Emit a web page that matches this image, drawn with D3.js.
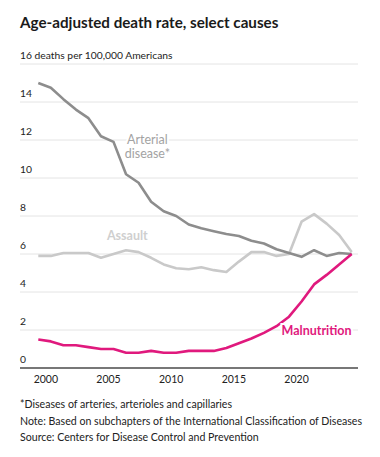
<!DOCTYPE html>
<html><head><meta charset="utf-8">
<script src="https://cdn.jsdelivr.net/npm/d3@7"></script>
<style>body{margin:0;background:#fff}svg{display:block}</style>
</head><body>
<svg id="c" width="380" height="457"></svg>
<script>
const years = [1999,2000,2001,2002,2003,2004,2005,2006,2007,2008,2009,2010,2011,2012,2013,2014,2015,2016,2017,2018,2019,2020,2021,2022,2023,2024];
const arterial = [15.0,14.75,14.15,13.6,13.15,12.2,11.9,10.2,9.75,8.75,8.25,8.0,7.55,7.35,7.2,7.05,6.95,6.7,6.55,6.25,6.05,5.85,6.2,5.9,6.05,6.0];
const assault = [5.9,5.9,6.05,6.05,6.05,5.8,6.0,6.2,6.1,5.8,5.45,5.25,5.2,5.3,5.15,5.05,5.6,6.1,6.1,5.9,6.0,7.7,8.1,7.6,7.0,6.1];
const malnutrition = [1.5,1.4,1.2,1.2,1.1,1.0,1.0,0.8,0.8,0.9,0.8,0.8,0.9,0.9,0.9,1.05,1.3,1.55,1.85,2.2,2.7,3.5,4.4,4.9,5.45,6.0];
const yTicks = [0,2,4,6,8,10,12,14,16];
const xTicks = [2000,2005,2010,2015,2020];
const title = "Age-adjusted death rate, select causes";
const unitLabel = "16 deaths per 100,000 Americans";
const notes = ["*Diseases of arteries, arterioles and capillaries","Note: Based on subchapters of the International Classification of Diseases","Source: Centers for Disease Control and Prevention"];

const FONT = "Lato, 'Open Sans', sans-serif";
const svg = d3.select("#c").style("font-family", FONT);
const x = d3.scaleLinear().domain([1999,2024]).range([38.3,351.7]);
const y = d3.scaleLinear().domain([0,16]).range([368,64]);
const gL = 20, gR = 358;

svg.append("text").attr("x",20).attr("y",28).attr("font-size",15.2).attr("font-weight",700).attr("fill","#1a1a1a").text(title);

// grid
svg.append("g").selectAll("line").data(yTicks.filter(d=>d>0)).join("line")
  .attr("x1",gL).attr("x2",gR).attr("y1",d=>y(d)).attr("y2",d=>y(d))
  .attr("stroke","#e4e4e4").attr("stroke-width",1);
svg.append("g").selectAll("text").data(yTicks).join("text")
  .attr("x",20).attr("y",d=>y(d)-5).attr("font-size",10.3).attr("fill","#222")
  .text(d=>d===16?unitLabel:d);
// baseline axis
svg.append("line").attr("x1",gL).attr("x2",gR).attr("y1",y(0)).attr("y2",y(0)).attr("stroke","#777").attr("stroke-width",2);
svg.append("g").selectAll("text").data(xTicks).join("text")
  .attr("x",d=>x(d)-5).attr("y",383).attr("text-anchor","middle").attr("font-size",10.5).attr("fill","#222").text(d=>d);

const line = vals => d3.line().x((d,i)=>x(years[i])).y(d=>y(d))(vals);
const series = [
  {vals:assault,color:"#c9c9c9"},
  {vals:arterial,color:"#8d8d8d"},
  {vals:malnutrition,color:"#e0197d"}
];
svg.append("g").selectAll("path").data(series).join("path")
  .attr("d",d=>line(d.vals)).attr("fill","none").attr("stroke",d=>d.color)
  .attr("stroke-width",2.6).attr("stroke-linejoin","round");

function label(lines, xv, yv, color, weight, size){
  const t = svg.append("text").attr("text-anchor","middle").attr("font-size",size).attr("font-weight",weight)
    .attr("fill",color).attr("stroke","#fff").attr("stroke-width",4).attr("paint-order","stroke");
  lines.forEach((s,i)=>t.append("tspan").attr("x",x(xv)).attr("y",y(yv)+i*14.5).text(s));
}
label(["Arterial","disease*"], 2007.7, 11.79, "#a3a3a3", 400, 12.5);
label(["Assault"], 2006.1, 6.74, "#cfcfcf", 700, 12.5);
label(["Malnutrition"], 2021.2, 1.74, "#e0197d", 700, 12.5);

svg.append("g").selectAll("text").data(notes).join("text")
  .attr("x",20).attr("y",(d,i)=>408+i*16.5).attr("font-size",10.6).attr("fill","#222").text(d=>d);
</script>
</body></html>
